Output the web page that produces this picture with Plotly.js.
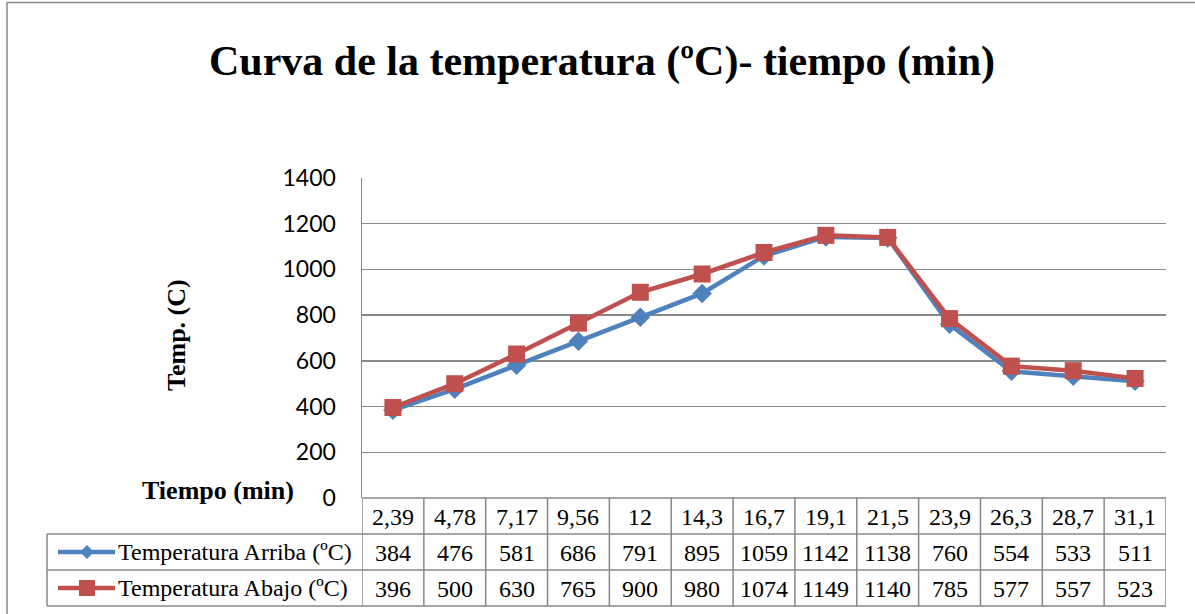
<!DOCTYPE html>
<html>
<head>
<meta charset="utf-8">
<script src="https://cdn.plot.ly/plotly-3.0.1.min.js"></script>
<style>html,body{margin:0;padding:0;background:#fff;}#chart{width:1195px;height:614px;}</style>
</head>
<body>
<div id="chart"></div>
<script>
// ---- data ----
var tiempo = ['2,39','4,78','7,17','9,56','12','14,3','16,7','19,1','21,5','23,9','26,3','28,7','31,1'];
var arriba = [384, 476, 581, 686, 791, 895, 1059, 1142, 1138, 760, 554, 533, 511];
var abajo  = [396, 500, 630, 765, 900, 980, 1074, 1149, 1140, 785, 577, 557, 523];
var serieArriba = 'Temperatura Arriba (ºC)';
var serieAbajo  = 'Temperatura Abajo (ºC)';
var yTicks = [0, 200, 400, 600, 800, 1000, 1200, 1400];

// ---- layout geometry (pixels) ----
var W = 1195, H = 614;
var L = 362, R = 1166, T = 178, B = 498;
function px(x){ return (x - L) / (R - L); }
function py(y){ return (B - y) / (B - T); }

var blue = '#4F81BD', red = '#C0504D', grid = '#898989';
var serif = 'Liberation Serif, Times New Roman, serif';

var idx = tiempo.map(function(_, i){ return i; });

var traces = [
  {x: idx, y: arriba, name: serieArriba, type: 'scatter', mode: 'lines+markers',
   line: {color: blue, width: 4.5}, marker: {symbol: 'diamond', size: 15, color: blue}},
  {x: idx, y: abajo, name: serieAbajo, type: 'scatter', mode: 'lines+markers',
   line: {color: red, width: 4.5}, marker: {symbol: 'square', size: 17, color: red}}
];

var shapes = [];
var ann = [];
var lw = 1.5;
// bottom of plot / table top
shapes.push({type:'line', xref:'paper', yref:'paper', x0:px(L), x1:px(R), y0:py(498), y1:py(498), line:{color:grid, width:lw}});
// row lines
[534, 570, 606].forEach(function(y){
  shapes.push({type:'line', xref:'paper', yref:'paper', x0:px(47), x1:px(R), y0:py(y), y1:py(y), line:{color:grid, width:lw}});
});
// vertical cell lines
for (var i = 0; i <= tiempo.length; i++) {
  shapes.push({type:'line', xref:'x', yref:'paper', x0:i-0.5, x1:i-0.5, y0:py(498), y1:py(606), line:{color:grid, width:lw}});
}
// legend column left edge
shapes.push({type:'line', xref:'paper', yref:'paper', x0:px(47), x1:px(47), y0:py(534), y1:py(606), line:{color:grid, width:lw}});
// chart area border
shapes.push({type:'line', xref:'paper', yref:'paper', x0:px(7), x1:px(7), y0:py(2), y1:py(620), line:{color:'#8a8a8a', width:1.5}});
shapes.push({type:'line', xref:'paper', yref:'paper', x0:px(7), x1:px(1200), y0:py(2.5), y1:py(2.5), line:{color:'#8a8a8a', width:1.5}});

// legend keys in table
function key(yc, color, symbol){
  shapes.push({type:'line', xref:'paper', yref:'paper', x0:px(58), x1:px(115), y0:py(yc), y1:py(yc), line:{color:color, width:4.5}});
  if (symbol === 'diamond') {
    var cx = 87, r = 7;
    shapes.push({type:'path', xref:'paper', yref:'paper',
      path:'M '+px(cx-r)+','+py(yc)+' L '+px(cx)+','+py(yc-r)+' L '+px(cx+r)+','+py(yc)+' L '+px(cx)+','+py(yc+r)+' Z',
      fillcolor:color, line:{color:color, width:0}});
  } else {
    var s = 8;
    shapes.push({type:'rect', xref:'paper', yref:'paper', x0:px(87-s), x1:px(87+s), y0:py(yc-s), y1:py(yc+s),
      fillcolor:color, line:{color:color, width:0}});
  }
}
key(552, blue, 'diamond');
key(588, red, 'square');

var tf = {family: serif, size: 24, color: '#000'};
ann.push({xref:'paper', yref:'paper', x:px(116), y:py(552), xanchor:'left', yanchor:'middle', text:serieArriba, showarrow:false, font:tf});
ann.push({xref:'paper', yref:'paper', x:px(116), y:py(588), xanchor:'left', yanchor:'middle', text:serieAbajo, showarrow:false, font:tf});
for (var j = 0; j < tiempo.length; j++) {
  ann.push({xref:'x', yref:'paper', x:j, y:py(517), text:tiempo[j], showarrow:false, font:tf, yanchor:'middle'});
  ann.push({xref:'x', yref:'paper', x:j, y:py(553), text:String(arriba[j]), showarrow:false, font:tf, yanchor:'middle'});
  ann.push({xref:'x', yref:'paper', x:j, y:py(589), text:String(abajo[j]), showarrow:false, font:tf, yanchor:'middle'});
}
// axis titles
ann.push({xref:'paper', yref:'paper', x:px(176), y:py(335), text:'<b>Temp. (C)</b>', textangle:-90, showarrow:false,
  font:{family: serif, size: 26, color:'#000'}, xanchor:'center', yanchor:'middle'});
ann.push({xref:'paper', yref:'paper', x:px(218), y:py(490), text:'<b>Tiempo (min)</b>', showarrow:false,
  font:{family: serif, size: 26, color:'#000'}, xanchor:'center', yanchor:'middle'});

var layout = {
  width: W, height: H,
  margin: {l: L, r: W - R, t: T, b: H - B, pad: 0},
  paper_bgcolor: '#fff', plot_bgcolor: '#fff',
  showlegend: false,
  title: {text: '<b>Curva de la temperatura (ºC)- tiempo (min)</b>', xref:'container', yref:'container',
    x: 602 / W, y: 1 - 60 / H, xanchor:'center', yanchor:'middle',
    font: {family: serif, size: 42, color: '#000'}},
  xaxis: {range: [-0.5, tiempo.length - 0.5], showticklabels: false, showgrid: false, zeroline: false,
    showline: false, ticks: '', fixedrange: true},
  yaxis: {range: [0, 1400], tickvals: yTicks, ticktext: yTicks.map(String), showgrid: true, gridcolor: grid, gridwidth: 1.5,
    zeroline: false, showline: true, linecolor: grid, linewidth: 1.5, ticks: '', ticklabelstandoff: 20,
    tickfont: {family: 'Lato, Open Sans, sans-serif', size: 23, color: '#000'}},
  shapes: shapes,
  annotations: ann
};

Plotly.newPlot('chart', traces, layout, {displayModeBar: false, staticPlot: true});
</script>
</body>
</html>
